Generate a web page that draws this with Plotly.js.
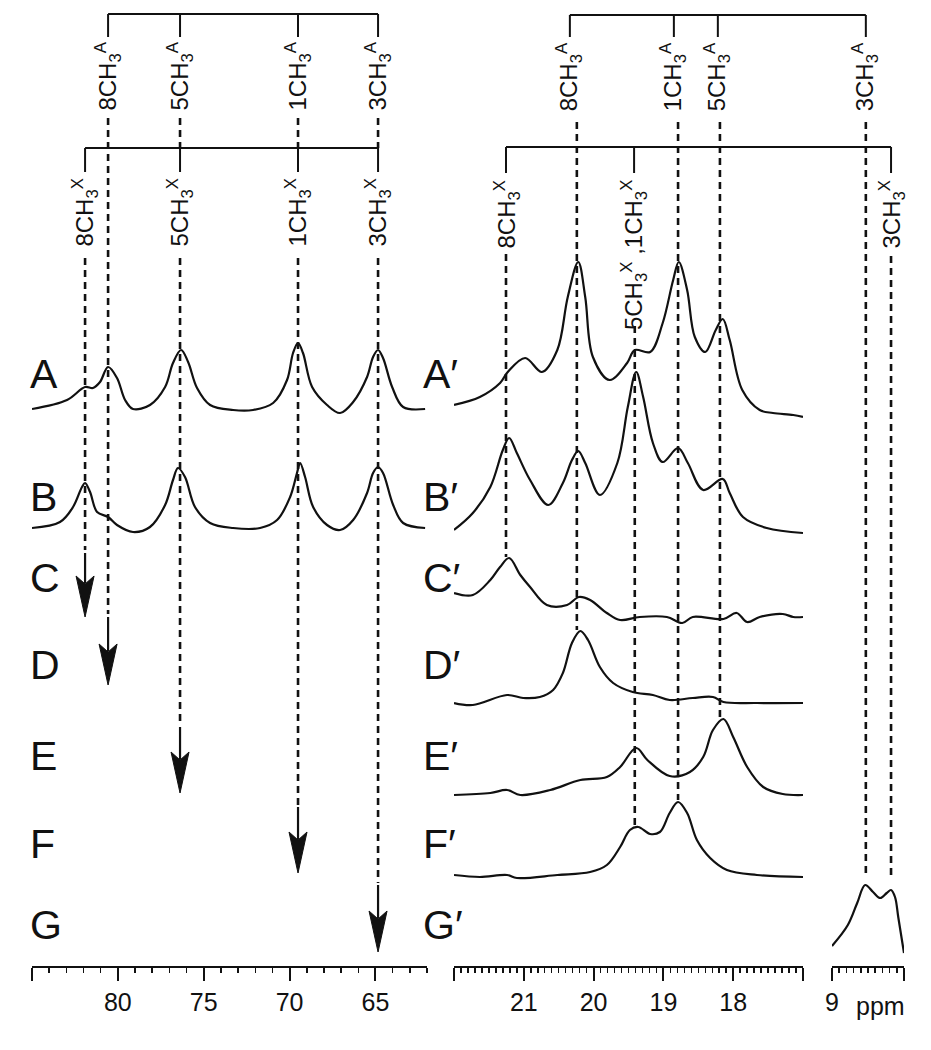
<!DOCTYPE html>
<html>
<head>
<meta charset="utf-8">
<script src="https://cdn.plot.ly/plotly-3.0.1.min.js"></script>
<style>
  body { margin: 0; background: #fff; }
  #plot { width: 931px; height: 1050px; }
</style>
</head>
<body>
<div id="plot"></div>
<script>
// ---- spectra (ppm, intensity above own baseline) ----
const leftA_ppm = [85.0, 82.96, 81.91, 81.45, 81.04, 80.57, 80.05, 79.58, 79.12, 78.13, 77.25, 76.79, 76.32, 75.91, 75.39, 74.63, 73.29, 72.13, 70.96, 70.15, 69.80, 69.51, 69.22, 68.69, 67.82, 67.06, 66.30, 65.49, 65.14, 64.85, 64.56, 64.03, 63.39, 62.11];
const leftA_int = [0, 9, 22, 21, 27, 42, 31, 9, 0, 4, 22, 46, 59, 47, 21, 4, -1, -1, 6, 29, 56, 66, 56, 22, 4, -4, 7, 32, 52, 59, 51, 22, 2, 0];

const leftB_ppm = [85.0, 83.37, 82.61, 82.09, 81.91, 81.62, 81.21, 80.57, 80.05, 79.12, 78.13, 77.25, 76.79, 76.50, 76.09, 75.51, 74.63, 73.29, 71.72, 70.73, 69.97, 69.57, 69.39, 69.10, 68.63, 67.82, 67.06, 66.30, 65.49, 65.14, 64.85, 64.56, 63.97, 63.39, 62.11];
const leftB_int = [0, 6, 21, 41, 45, 36, 16, 11, 3, -4, 1, 23, 48, 60, 51, 21, 5, 0, 0, 8, 31, 55, 65, 51, 21, 3, -2, 8, 35, 55, 61, 55, 23, 5, 0];

const midA_ppm = [22.0, 21.63, 21.34, 21.23, 20.98, 20.74, 20.52, 20.37, 20.22, 20.12, 20.01, 19.77, 19.52, 19.41, 19.19, 19.01, 18.86, 18.78, 18.66, 18.55, 18.40, 18.25, 18.15, 18.05, 17.87, 17.62, 17.43, 17.14, 17.0];
const midA_int = [12, 20, 34, 45, 59, 45, 67, 120, 155, 120, 60, 37, 54, 67, 65, 94, 137, 155, 127, 80, 65, 87, 98, 77, 27, 7, 4, 2, 0];

const midB_ppm = [22.0, 21.73, 21.48, 21.30, 21.21, 21.10, 20.91, 20.65, 20.44, 20.31, 20.22, 20.12, 19.91, 19.66, 19.51, 19.39, 19.29, 19.15, 19.01, 18.79, 18.65, 18.43, 18.15, 18.05, 17.86, 17.52, 17.0];
const midB_int = [3, 20, 46, 83, 95, 80, 53, 28, 50, 73, 82, 70, 38, 70, 126, 161, 136, 90, 71, 85, 70, 43, 54, 40, 16, 5, 0];

const midC_ppm = [22.0, 21.73, 21.48, 21.34, 21.21, 21.05, 20.91, 20.67, 20.38, 20.21, 20.05, 19.81, 19.62, 19.34, 18.95, 18.73, 18.58, 18.14, 17.95, 17.80, 17.62, 17.29, 17.14, 17.0];
const midC_int = [24, 22, 37, 50, 59, 42, 30, 12, 12, 20, 17, 4, -3, 0, 0, -6, 0, -2, 4, -5, 0, 3, 0, 0];

const midD_ppm = [22.0, 21.73, 21.24, 21.01, 20.77, 20.58, 20.44, 20.31, 20.19, 20.08, 19.91, 19.72, 19.44, 19.15, 18.91, 18.58, 18.29, 18.14, 17.66, 17.0];
const midD_int = [0, -2, 8, 5, 6, 13, 30, 60, 72, 63, 36, 20, 11, 8, 3, 5, 6, 1, 0, 0];

const midE_ppm = [22.0, 21.48, 21.24, 21.05, 20.62, 20.19, 19.81, 19.62, 19.39, 19.23, 18.91, 18.62, 18.43, 18.29, 18.14, 18.00, 17.80, 17.57, 17.29, 17.0];
const midE_int = [0, 2, 5, 0, 5, 15, 18, 28, 47, 35, 19, 23, 38, 65, 76, 58, 28, 8, 1, 0];

const midF_ppm = [22.0, 21.63, 21.24, 21.10, 20.52, 20.05, 19.81, 19.62, 19.48, 19.36, 19.19, 19.05, 18.91, 18.79, 18.66, 18.52, 18.33, 18.09, 17.66, 17.0];
const midF_int = [2, 0, 2, -1, 2, 5, 12, 30, 47, 50, 43, 45, 64, 75, 64, 37, 19, 7, 2, 0];

const rightG_ppm = [9.0, 8.78, 8.65, 8.54, 8.43, 8.33, 8.24, 8.18, 8.125, 8.08, 8.0];
const rightG_int = [7, 28, 50, 68, 61, 55, 60, 63, 56, 36, 0];

// ---- peak positions (dashed guide lines) ----
const leftPeaks = [81.91, 80.57, 76.38, 69.51, 64.85];
const midPeaks = [21.255, 20.24, 19.41, 18.79, 18.19];
const rightPeaks = [8.53, 8.18];

// ---- assignment labels ----
const leftTopLabels = ['8CH<sub>3</sub><sup>A</sup>', '5CH<sub>3</sub><sup>A</sup>', '1CH<sub>3</sub><sup>A</sup>', '3CH<sub>3</sub><sup>A</sup>'];
const leftTopPpm = [80.57, 76.38, 69.51, 64.85];
const leftLowLabels = ['8CH<sub>3</sub><sup>X</sup>', '5CH<sub>3</sub><sup>X</sup>', '1CH<sub>3</sub><sup>X</sup>', '3CH<sub>3</sub><sup>X</sup>'];
const leftLowPpm = [81.91, 76.38, 69.51, 64.85];
const midTopLabels = ['8CH<sub>3</sub><sup>A</sup>', '1CH<sub>3</sub><sup>A</sup>', '5CH<sub>3</sub><sup>A</sup>'];
const midTopPpm = [20.34, 18.85, 18.22];
const midLowLabels = ['8CH<sub>3</sub><sup>X</sup>', '5CH<sub>3</sub><sup>X</sup> ,1CH<sub>3</sub><sup>X</sup>'];
const midLowPpm = [21.255, 19.42];
const rightTopLabel = '3CH<sub>3</sub><sup>A</sup>';
const rightTopPpm = 8.53;
const rightLowLabel = '3CH<sub>3</sub><sup>X</sup>';
const rightLowPpm = 8.18;

// ---- row names and axis ticks ----
const leftRows = ['A', 'B', 'C', 'D', 'E', 'F', 'G'];
const midRows = ['A′', 'B′', 'C′', 'D′', 'E′', 'F′', 'G′'];
const leftTickVals = [85, 80, 75, 70, 65];
const leftTickText = ['', '80', '75', '70', '65'];
const midTickVals = [22, 21, 20, 19, 18, 17];
const midTickText = ['', '21', '20', '19', '18', ''];
const rightTickVals = [9, 8];
const rightTickText = ['9', ''];

// ---- geometry (pixel rows / columns of the 931x1050 page) ----
const W = 931, H = 1050, AXIS_ROW = 967;
const panels = [
  { range: [85, 62], p0: 32, p1: 427 },
  { range: [22, 17], p0: 454, p1: 803 },
  { range: [9, 8], p0: 832, p1: 904 }
];
const rowY = [374, 497, 578, 665, 756, 844, 925];      // label centres
const leftBase = [409, 528];                            // A, B baselines
const midBase = [417, 533, 617, 703, 795, 877];         // A'..F' baselines
const rightBase = 953;                                  // G'

const X = px => px / W;
const Y = row => 1 - row / H;
const colOf = (i, ppm) => {
  const p = panels[i];
  return p.p0 + (ppm - p.range[0]) / (p.range[1] - p.range[0]) * (p.p1 - p.p0);
};

const INK = '#111';
const FONT = 'Liberation Sans, Arial, Helvetica, sans-serif';

function spec(ppm, inten, axis, base) {
  return {
    x: ppm, y: inten.map(v => H - base + v), xaxis: axis, yaxis: 'y',
    type: 'scatter', mode: 'lines', hoverinfo: 'skip', showlegend: false,
    line: { color: INK, width: 2.2, shape: 'spline', smoothing: 1.0 }
  };
}

const data = [
  spec(leftA_ppm, leftA_int, 'x', leftBase[0]),
  spec(leftB_ppm, leftB_int, 'x', leftBase[1]),
  spec(midA_ppm, midA_int, 'x2', midBase[0]),
  spec(midB_ppm, midB_int, 'x2', midBase[1]),
  spec(midC_ppm, midC_int, 'x2', midBase[2]),
  spec(midD_ppm, midD_int, 'x2', midBase[3]),
  spec(midE_ppm, midE_int, 'x2', midBase[4]),
  spec(midF_ppm, midF_int, 'x2', midBase[5]),
  spec(rightG_ppm, rightG_int, 'x3', rightBase)
];

const shapes = [];
const annotations = [];

function seg(x0, r0, x1, r1, dash, w) {
  shapes.push({ type: 'line', xref: 'paper', yref: 'paper', x0: X(x0), y0: Y(r0), x1: X(x1), y1: Y(r1),
    line: { color: INK, width: w || 2, dash: dash || 'solid' } });
}
function dashed(col, r0, r1) { seg(col, r0, col, r1, '7px,5px', 2.6); }

// brackets
function bracket(cols, row, tickEnd) {
  seg(Math.min(...cols), row, Math.max(...cols), row);
  cols.forEach(c => seg(c, row, c, tickEnd));
}
bracket(leftTopPpm.map(p => colOf(0, p)), 14, 37);
bracket(leftLowPpm.map(p => colOf(0, p)), 148, 172);
bracket(midTopPpm.map(p => colOf(1, p)).concat([colOf(2, rightTopPpm)]), 15, 37);
bracket(midLowPpm.map(p => colOf(1, p)).concat([colOf(2, rightLowPpm)]), 147, 173);

// dashed guide lines
const leftDash = [[[258, 550]], [[118, 614]], [[118, 148], [258, 725]], [[118, 148], [258, 805]], [[118, 148], [258, 883]]];
leftPeaks.forEach((p, i) => leftDash[i].forEach(s => dashed(colOf(0, p), s[0], s[1])));
const midDash = [[[254, 557]], [[122, 630]], [[326, 826]], [[122, 800]], [[122, 718]]];
midPeaks.forEach((p, i) => midDash[i].forEach(s => dashed(colOf(1, p), s[0], s[1])));
const rightDash = [[[122, 878]], [[256, 880]]];
rightPeaks.forEach((p, i) => rightDash[i].forEach(s => dashed(colOf(2, p), s[0], s[1])));

// arrows (signal suppressed in C..G)
const arrowStart = [553, 617, 727, 807, 885];
const arrowTip = [617, 685, 793, 873, 952];
leftPeaks.forEach((p, i) => {
  const c = colOf(0, p), t = arrowTip[i];
  seg(c, arrowStart[i], c, t - 34, 'solid', 2.2);
  shapes.push({
    type: 'path', xref: 'paper', yref: 'paper', fillcolor: INK, line: { color: INK, width: 1 },
    path: `M ${X(c)},${Y(t)} L ${X(c - 9)},${Y(t - 41)} L ${X(c)},${Y(t - 33)} L ${X(c + 9)},${Y(t - 41)} Z`
  });
});

// assignment labels
function label(text, col, top) {
  annotations.push({ text, xref: 'paper', yref: 'paper', x: X(col), y: Y(top), xanchor: 'center', yanchor: 'top',
    textangle: -90, showarrow: false, font: { family: FONT, size: 24, color: INK } });
}
leftTopLabels.forEach((t, i) => label(t, colOf(0, leftTopPpm[i]), 40));
leftLowLabels.forEach((t, i) => label(t, colOf(0, leftLowPpm[i]), 176));
midTopLabels.forEach((t, i) => label(t, colOf(1, midTopPpm[i]), 40));
midLowLabels.forEach((t, i) => label(t, colOf(1, midLowPpm[i]), 178));
label(rightTopLabel, colOf(2, rightTopPpm), 40);
label(rightLowLabel, colOf(2, rightLowPpm), 178);

// row names
leftRows.forEach((t, i) => annotations.push({ text: t, xref: 'paper', yref: 'paper', x: X(28), y: Y(rowY[i]),
  xanchor: 'left', yanchor: 'middle', showarrow: false, font: { family: FONT, size: 41, color: INK } }));
midRows.forEach((t, i) => annotations.push({ text: t, xref: 'paper', yref: 'paper', x: X(421), y: Y(rowY[i]),
  xanchor: 'left', yanchor: 'middle', showarrow: false, font: { family: FONT, size: 41, color: INK } }));

annotations.push({ text: 'ppm', xref: 'paper', yref: 'paper', x: X(880), y: Y(1006), xanchor: 'center', yanchor: 'middle',
  showarrow: false, font: { family: FONT, size: 25, color: INK } });

function xax(i, tickvals, ticktext, minorDtick) {
  const p = panels[i];
  return {
    domain: [X(p.p0), X(p.p1)], range: p.range, autorange: false,
    anchor: 'free', position: (H - AXIS_ROW) / H,
    showline: true, linecolor: INK, linewidth: 2, showgrid: false, zeroline: false,
    ticks: 'outside', ticklen: 13, tickwidth: 2, tickcolor: INK,
    tickmode: 'array', tickvals, ticktext,
    tickfont: { family: FONT, size: 25, color: INK },
    minor: { tickmode: 'linear', tick0: 0, dtick: minorDtick, ticks: 'outside', ticklen: 5, tickwidth: 1.5, tickcolor: INK, showgrid: false },
    fixedrange: true
  };
}

const layout = {
  width: W, height: H, margin: { l: 0, r: 0, t: 0, b: 0 },
  paper_bgcolor: '#fff', plot_bgcolor: 'rgba(0,0,0,0)', showlegend: false,
  xaxis: xax(0, leftTickVals, leftTickText, 1),
  xaxis2: xax(1, midTickVals, midTickText, 0.1),
  xaxis3: xax(2, rightTickVals, rightTickText, 0.1),
  yaxis: { domain: [0, 1], range: [0, H], visible: false, fixedrange: true },
  shapes, annotations
};

Plotly.newPlot('plot', data, layout, { staticPlot: true, displayModeBar: false });
</script>
</body>
</html>
